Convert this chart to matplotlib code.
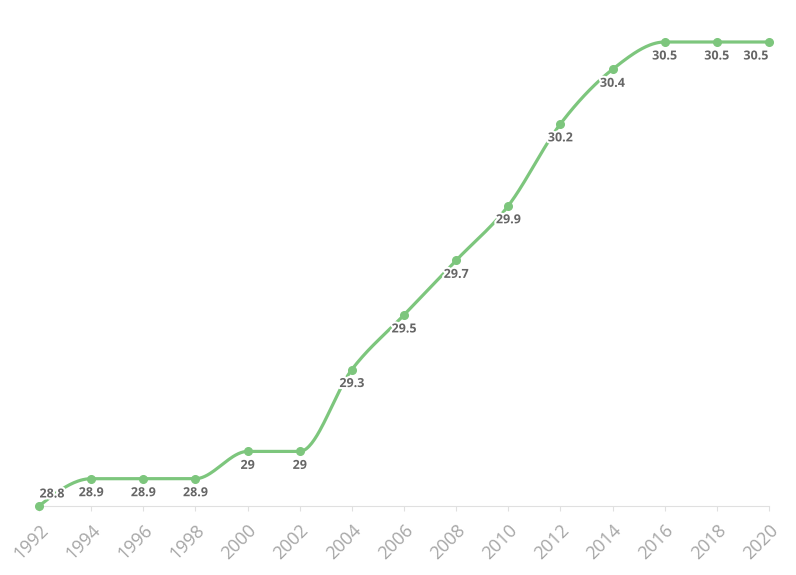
import numpy as np
import matplotlib.pyplot as plt
import matplotlib.patheffects as pe

# dati
anni = [1992, 1994, 1996, 1998, 2000, 2002, 2004, 2006, 2008, 2010, 2012, 2014, 2016, 2018, 2020]
valori = [28.8, 28.9, 28.9, 28.9, 29.0, 29.0, 29.3, 29.5, 29.7, 29.9, 30.2, 30.4, 30.5, 30.5, 30.5]
etichette = ["28.8", "28.9", "28.9", "28.9", "29", "29", "29.3", "29.5", "29.7", "29.9", "30.2", "30.4", "30.5", "30.5", "30.5"]

VERDE = "#7dc67d"


def monotone_x(x, y, n=40):
    # curva monotona come d3.curveMonotoneX
    x = np.asarray(x, float)
    y = np.asarray(y, float)
    h = np.diff(x)
    s = np.diff(y) / h
    t = np.zeros(len(x))
    for i in range(1, len(x) - 1):
        p = (s[i - 1] * h[i] + s[i] * h[i - 1]) / (h[i - 1] + h[i])
        t[i] = (np.sign(s[i - 1]) + np.sign(s[i])) * min(abs(s[i - 1]), abs(s[i]), 0.5 * abs(p))
    t[0] = (3 * s[0] - t[1]) / 2
    t[-1] = (3 * s[-1] - t[-2]) / 2
    xs, ys = [], []
    for i in range(len(x) - 1):
        u = np.linspace(0, 1, n)
        dx = h[i]
        p0, p3 = y[i], y[i + 1]
        p1 = y[i] + dx / 3 * t[i]
        p2 = y[i + 1] - dx / 3 * t[i + 1]
        xs.append(x[i] + dx * u)
        ys.append((1 - u) ** 3 * p0 + 3 * (1 - u) ** 2 * u * p1 + 3 * (1 - u) * u ** 2 * p2 + u ** 3 * p3)
    return np.concatenate(xs), np.concatenate(ys)


plt.rcParams['font.family'] = ['Open Sans', 'DejaVu Sans']

fig = plt.figure(figsize=(7.96, 5.75), dpi=100)
ax = fig.add_axes([39 / 796, (575 - 506) / 575, (769 - 39) / 796, (506 - 42) / 575])

cx, cy = monotone_x(anni, valori)
ax.plot(cx, cy, color=VERDE, lw=2.3, solid_capstyle='round', clip_on=False, zorder=2)
ax.plot(anni, valori, 'o', color=VERDE, ms=5.5, clip_on=False, zorder=3)

alone = [pe.withStroke(linewidth=3, foreground='white')]
for i, (a, v, e) in enumerate(zip(anni, valori, etichette)):
    dx, dy = 0, -14
    if i == 0:
        dx, dy = 13, 12
    elif i == len(anni) - 1:
        dx = -13
    ax.annotate(e, (a, v), xytext=(dx, dy), textcoords='offset pixels',
                ha='center', va='center', fontsize=9, fontweight='bold', color='#666666',
                path_effects=alone, zorder=4)

ax.set_xlim(1992, 2020)
ax.set_ylim(28.8, 30.5)
ax.set_xticks(anni)
ax.set_xticklabels([str(a) for a in anni], rotation=45, ha='right', rotation_mode='anchor',
                   fontsize=13, color='#a6a6a6')
ax.tick_params(axis='x', length=3.6, color='#e0e0e0', pad=7)
ax.set_yticks([])
for lato in ['top', 'right', 'left']:
    ax.spines[lato].set_visible(False)
ax.spines['bottom'].set_color('#e0e0e0')
ax.spines['bottom'].set_zorder(1)

fig.savefig('out.png', dpi=100)
